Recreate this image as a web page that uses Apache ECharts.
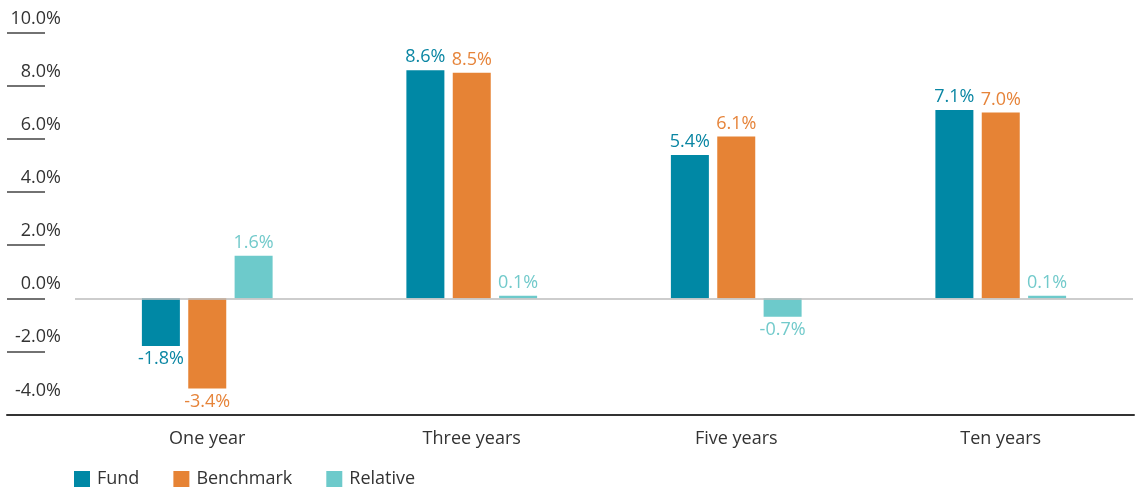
<!DOCTYPE html>
<html><head><meta charset="utf-8">
<script src="https://cdn.jsdelivr.net/npm/echarts@6/dist/echarts.min.js"></script>
<style>html,body{margin:0;padding:0;background:#fff}#c{width:1141px;height:490px}</style>
</head><body><div id="c"></div>
<script>
const categories = ['One year', 'Three years', 'Five years', 'Ten years'];
const fund = [-1.8, 8.6, 5.4, 7.1];
const benchmark = [-3.4, 8.5, 6.1, 7.0];
const relative = [1.6, 0.1, -0.7, 0.1];
const tickValues = [-4, -2, 0, 2, 4, 6, 8, 10];
const tickLines = [-2, 0, 2, 4, 6, 8, 10];
const names = ['Fund', 'Benchmark', 'Relative'];
const colors = ['#0088A5', '#E68335', '#6DCACB'];
const labelColors = ['#0A86A3', '#E6843A', '#72CACB'];
const FONT = '"Open Sans", "Noto Sans", sans-serif';

const chart = echarts.init(document.getElementById('c'));
function mk(i, arr) {
  return {
    name: names[i], type: 'bar', xAxisIndex: 0, yAxisIndex: 0,
    barWidth: 38, barGap: '22%',
    itemStyle: { color: colors[i] },
    data: arr.map(v => ({
      value: v,
      label: { position: v >= 0 ? 'top' : 'bottom' }
    })),
    label: {
      show: true, distance: 4, color: labelColors[i], fontSize: 18, fontFamily: FONT,
      formatter: p => p.value.toFixed(1) + '%'
    }
  };
}
const series = [mk(0, fund), mk(1, benchmark), mk(2, relative)];
series[0].markLine = {
  silent: true, symbol: 'none', label: { show: false },
  lineStyle: { color: '#BDBDBD', width: 1.5, type: 'solid' },
  data: [{ yAxis: 0 }]
};
chart.setOption({
  animation: false,
  textStyle: { fontFamily: FONT },
  legend: {
    left: 69, top: 465, itemWidth: 16, itemHeight: 16, itemGap: 34,
    icon: 'rect', data: names,
    textStyle: { fontSize: 18, color: '#333', fontFamily: FONT, padding: [0, 0, 0, 2] }
  },
  grid: [
    { left: 75, right: 8, top: 33, bottom: 75 },
    { left: 7, right: 7, top: 33, bottom: 75 }
  ],
  xAxis: [
    { type: 'category', gridIndex: 0, data: categories,
      axisLine: { show: false }, axisTick: { show: false },
      axisLabel: { margin: 15, fontSize: 18, color: '#333', fontFamily: FONT } },
    { type: 'value', gridIndex: 1, min: 0, max: 1, position: 'bottom',
      axisLine: { show: true, onZero: false, lineStyle: { color: '#333', width: 2 } },
      axisTick: { show: false }, axisLabel: { show: false }, splitLine: { show: false } }
  ],
  yAxis: [
    { type: 'value', gridIndex: 0, min: -4.4, max: 10, show: false, splitLine: { show: false } },
    { type: 'value', gridIndex: 1, min: -4.4, max: 10, position: 'left',
      axisLine: { show: false, onZero: false }, splitLine: { show: false },
      axisTick: { show: true, inside: true, length: 38, customValues: tickLines,
        lineStyle: { color: '#444', width: 1.5 } },
      axisLabel: { show: true, inside: true, customValues: tickValues, margin: 54, align: 'right',
        verticalAlign: 'bottom', padding: [0, 0, 5, 0], fontSize: 18, color: '#333', fontFamily: FONT,
        formatter: v => v.toFixed(1) + '%' } }
  ],
  series: series
});
</script></body></html>
